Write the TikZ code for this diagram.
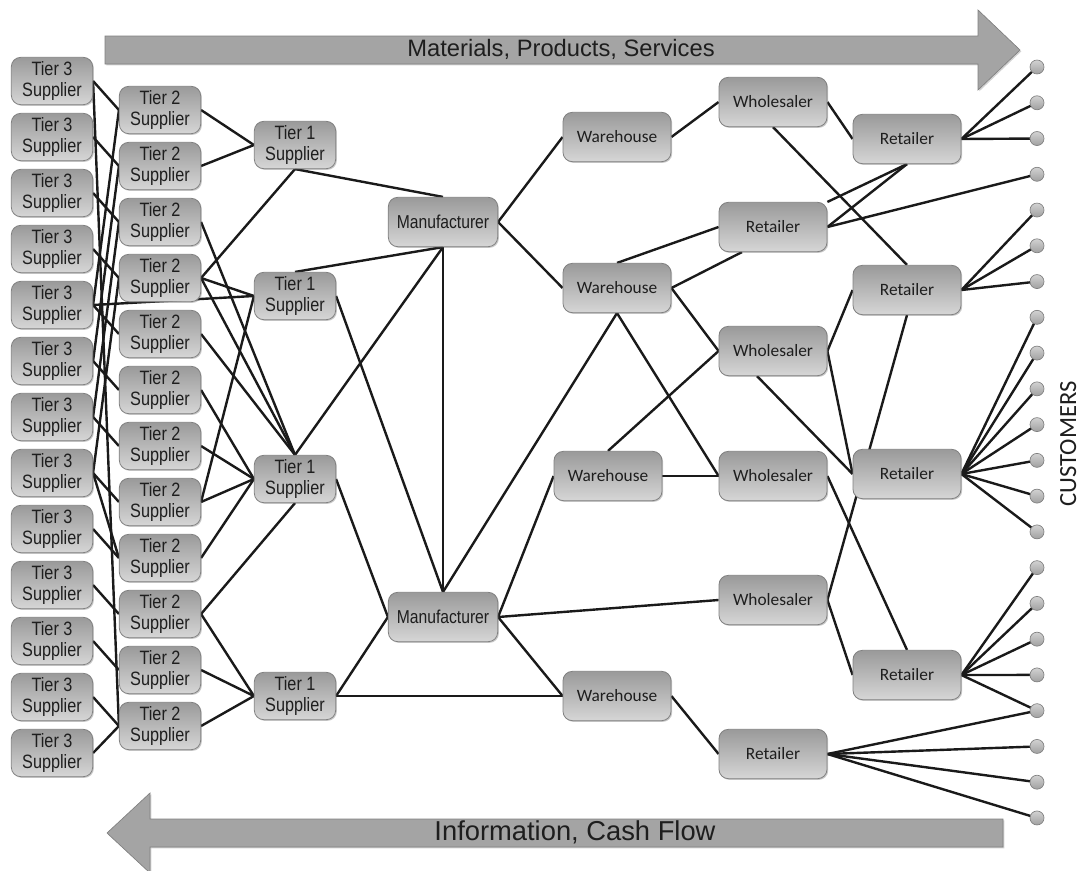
\documentclass[tikz,border=0pt]{standalone}
\usepackage{fontspec}
\setmainfont{Liberation Sans}
\newfontfamily\calfont{Carlito}
\newfontfamily\narrowfont{Liberation Sans}[FakeStretch=0.84]
\usetikzlibrary{shadows,calc}
\definecolor{boxtop}{HTML}{9A9A9A}
\definecolor{boxbot}{HTML}{D6D6D6}
\definecolor{boxline}{HTML}{808080}
\definecolor{inkline}{HTML}{1A1A1A}
\definecolor{arrowfill}{HTML}{A4A4A4}
\definecolor{textgray}{HTML}{1E1E1E}
\definecolor{dottop}{HTML}{D2D2D2}
\definecolor{dotbot}{HTML}{A0A0A0}
\pgfdeclarelayer{background}
\pgfsetlayers{background,main}

\begin{document}
\begin{tikzpicture}[x=0.75pt,y=-0.75pt,
  card/.style={draw=boxline, line width=0.6pt, rounded corners=7pt,
    top color=boxtop, bottom color=boxbot, inner sep=0pt, align=center,
    text=textgray,
    drop shadow={shadow xshift=0.9pt, shadow yshift=-0.9pt, opacity=0.3, fill=black!70}},
  tier/.style={card, minimum width=61pt, minimum height=35.5pt,
    font=\narrowfont\fontsize{14.5}{16}\selectfont},
  maker/.style={card, minimum width=82pt, minimum height=37pt,
    font=\narrowfont\fontsize{14}{16}\selectfont},
  trade/.style={card, minimum width=81pt, minimum height=37pt,
    font=\calfont\fontsize{13}{15}\selectfont},
  link/.style={draw=inkline, line width=1.8pt},
  buyer/.style={circle, draw=boxline, line width=0.5pt, top color=dottop,
    bottom color=dotbot, minimum size=10.5pt, inner sep=0pt},
  flow/.style={draw=boxline, line width=0.5pt, fill=arrowfill,
    drop shadow={shadow xshift=1pt, shadow yshift=-1pt, opacity=0.25, fill=black!70}},
  flowtext/.style={text=textgray}
]
\useasboundingbox (0,0) rectangle (1082,871);

% flow arrows
\path[flow] (105,36) -- (978,36) -- (978,10) -- (1020,50) -- (978,90)
  -- (978,64) -- (105,64) -- cycle;
\node[flowtext, font=\fontsize{17.8}{19}\selectfont] (goods) at (561,49)
  {Materials, Products, Services};
\path[flow] (1003,819) -- (150,819) -- (150,793) -- (107,833) -- (150,873)
  -- (150,847) -- (1003,847) -- cycle;
\node[flowtext, font=\fontsize{20.5}{22}\selectfont] (money) at (575,832)
  {Information, Cash Flow};

% supplier tiers
\foreach \k in {1,...,13}
  \node[tier] (a\k) at (52,{81+56*(\k-1)}) {Tier 3\\Supplier};
\foreach \k in {1,...,12}
  \node[tier] (b\k) at (160,{110+56*(\k-1)}) {Tier 2\\Supplier};
\node[tier] (c1) at (295,145) {Tier 1\\Supplier};
\node[tier] (c2) at (295,296) {Tier 1\\Supplier};
\node[tier] (c3) at (295,479) {Tier 1\\Supplier};
\node[tier] (c4) at (295,696) {Tier 1\\Supplier};

% manufacturers
\node[maker] (m1) at (443,222) {Manufacturer};
\node[maker] (m2) at (443,617) {Manufacturer};

% warehouses
\node[trade] (w1) at (617,137) {Warehouse};
\node[trade] (w2) at (617,288) {Warehouse};
\node[trade] (w3) at (608,476) {Warehouse};
\node[trade] (w4) at (617,696) {Warehouse};

% wholesalers and retailers
\node[trade] (h1) at (773,102) {Wholesaler};
\node[trade] (rm) at (773,227) {Retailer};
\node[trade] (h2) at (773,351) {Wholesaler};
\node[trade] (h3) at (773,476) {Wholesaler};
\node[trade] (h4) at (773,600) {Wholesaler};
\node[trade] (rb) at (773,754) {Retailer};
\node[trade] (r1) at (907,139) {Retailer};
\node[trade] (r2) at (907,290) {Retailer};
\node[trade] (r3) at (907,474) {Retailer};
\node[trade] (r4) at (907,675) {Retailer};

% customers
\foreach \k in {1,...,22}
  \node[buyer] (d\k) at (1037,{67+35.76*(\k-1)}) {};
\node[rotate=90, anchor=base, inner sep=0pt,
  font=\calfont\fontsize{18.5}{20}\selectfont, text=textgray]
  (cust) at (1076,444) {CUSTOMERS};

\begin{pgfonlayer}{background}
  % tier 3 to tier 2
  \foreach \k in {1,...,12} \draw[link] (a\k.east) -- (b\k.west);
  \draw[link] (a13.east) -- (b12.west);
  \draw[link] (a1.east) -- (b12.west);
  \draw[link] (b1.west) -- (a5.east);
  \draw[link] (b2.west) -- (a6.east);
  \draw[link] (b3.west) -- (a7.east);
  \draw[link] (b4.west) -- (a8.east);
  \draw[link] (a8.east) -- (b9.west);
  % tier 2 to tier 1
  \draw[link] (b1.east) -- (c1.west);
  \draw[link] (b2.east) -- (c1.west);
  \draw[link] (b4.east) -- (c1.south);
  \draw[link] (b4.east) -- (c2.west);
  \draw[link] (a5.east) -- (c2.west);
  \draw[link] (b8.east) -- (c2.west);
  \draw[link] (b3.east) -- (c3.north);
  \draw[link] (b4.east) -- (c3.north);
  \draw[link] (b5.east) -- (c3.north);
  \draw[link] (b6.east) -- (c3.west);
  \draw[link] (b7.east) -- (c3.west);
  \draw[link] (b8.east) -- (c3.west);
  \draw[link] (b9.east) -- (c3.west);
  \draw[link] (b10.east) -- (c3.south);
  \draw[link] (b10.east) -- (c4.west);
  \draw[link] (b11.east) -- (c4.west);
  \draw[link] (b12.east) -- (c4.west);
  % tier 1 to manufacturers
  \draw[link] (c1.south) -- (m1.north);
  \draw[link] (c2.north) -- (m1.south);
  \draw[link] (c3.north) -- (m1.south);
  \draw[link] (c2.east) -- (m2.north);
  \draw[link] (c3.east) -- (m2.west);
  \draw[link] (c4.east) -- (m2.west);
  \draw[link] (c4.east) -- (w4.west);
  \draw[link] (m1.south) -- (m2.north);
  % manufacturers to distribution
  \draw[link] (m1.east) -- (w1.west);
  \draw[link] (m1.east) -- (w2.west);
  \draw[link] (w2.south) -- (m2.north);
  \draw[link] (m2.east) -- (w3.west);
  \draw[link] (m2.east) -- (h4.west);
  \draw[link] (m2.east) -- (w4.west);
  \draw[link] (w1.east) -- (h1.west);
  \draw[link] (w2.north) -- (rm.west);
  \draw[link] (w2.east) -- ($(rm.south)+(-31,0)$);
  \draw[link] (w2.east) -- (h2.west);
  \draw[link] (w2.south) -- (h3.west);
  \draw[link] (w3.north) -- (h2.west);
  \draw[link] (w3.east) -- (h3.west);
  \draw[link] (w4.east) -- (rb.west);
  % wholesalers to retailers
  \draw[link] (h1.east) -- (r1.west);
  \draw[link] (h1.south) -- (r2.north);
  \draw[link] (rm.north east) -- (r1.south);
  \draw[link] (rm.east) -- (r1.south);
  \draw[link] (h2.east) -- (r2.west);
  \draw[link] ($(h2.south)+(-16,0)$) -- (r3.west);
  \draw[link] (h2.east) -- (r3.west);
  \draw[link] (h3.east) -- (r4.north);
  \draw[link] (r2.south) -- (h4.east);
  \draw[link] (h4.east) -- (r4.west);
  % retailers to customers
  \foreach \k in {1,2,3} \draw[link] (r1.east) -- (d\k.center);
  \draw[link] (rm.east) -- (d4.center);
  \foreach \k in {5,6,7} \draw[link] (r2.east) -- (d\k.center);
  \foreach \k in {8,...,14} \draw[link] (r3.east) -- (d\k.center);
  \foreach \k in {15,...,19} \draw[link] (r4.east) -- (d\k.center);
  \foreach \k in {19,...,22} \draw[link] (rb.east) -- (d\k.center);
\end{pgfonlayer}
\end{tikzpicture}
\end{document}
